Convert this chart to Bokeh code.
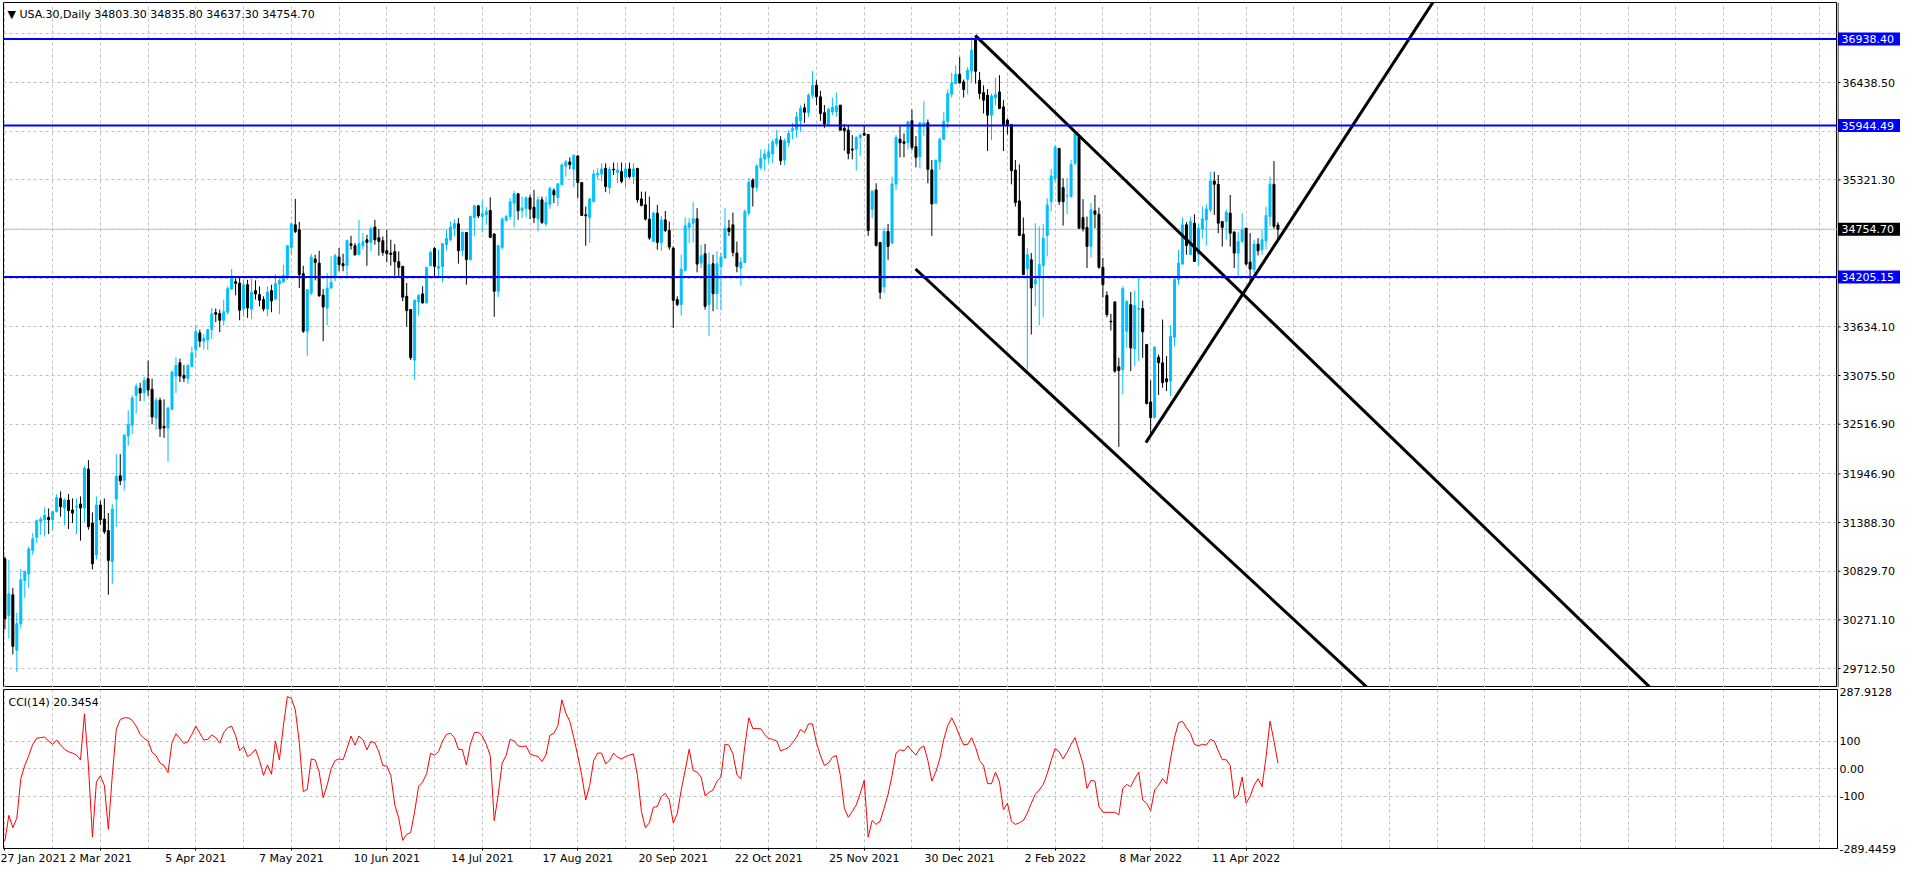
import numpy as np
from bokeh.plotting import figure
from bokeh.layouts import column, row
from bokeh.models import ColumnDataSource, Range1d, FixedTicker, Span, Label
from bokeh.core.properties import value
from bokeh.embed import file_html
from bokeh.resources import INLINE

symbol = "USA.30,Daily"
last_ohlc = [34803.30, 34835.80, 34637.30, 34754.70]
cci_name = "CCI(14)"
cci_last = 20.3454

opens = [30971,30322,30559,29922,30227,30723,30799,31066,31219,31398,
31421,31448,31421,31513,31665,31555,31646,31532,31566,31600,
31555,32001,31383,31017,31589,31429,31295,30940,31658,31925,
31875,32382,32505,32848,32928,32878,33039,32917,32588,32791,
32493,32474,32688,33069,33222,33077,33042,33180,33374,33565,
33470,33485,33603,33798,33787,33710,33802,34069,34153,34137,
33840,34118,33840,34050,34004,33947,33840,34050,33954,34126,
34149,34214,34546,34805,34748,34244,33584,34023,34412,34366,
33999,33851,34081,34214,34436,34359,34336,34588,34565,34462,
34565,34634,34604,34779,34657,34623,34508,34481,34497,34382,
34329,33985,33833,33253,33921,34012,33909,34336,34535,34306,
34325,34577,34634,34768,34817,34512,34718,34405,34890,35023,
34901,34920,34970,34699,34043,34546,34855,34901,35054,35161,
34970,34993,35115,35008,34878,35092,34817,35042,35199,35119,
35264,35481,35527,35443,35595,35290,34920,34890,35073,35378,
35389,35454,35233,35443,35408,35416,35351,35447,35359,35454,
35103,35035,34870,34614,34939,34603,34862,34740,34538,33947,
33890,34282,34775,34824,34874,34366,34473,33890,34359,34015,
34328,34424,34767,34805,34481,34309,34374,34939,35320,35236,
35465,35560,35580,35618,35740,35778,35549,35747,35885,35900,
35999,36148,36095,36293,36407,36274,36091,35961,36102,36102,
36179,35911,35892,35675,35675,35808,35854,35843,34984,35206,
34603,34092,34729,34595,35274,35789,35759,35751,35999,35702,
35587,35950,35976,35435,35053,35530,35786,35988,36304,36427,
36533,36446,36476,36571,36949,36465,36323,36293,36064,36262,
36331,36159,36007,35957,35434,35080,34698,34301,34404,34126,
34195,34340,34683,35072,35339,35682,35232,35137,35129,35511,
35816,34889,34774,34557,34965,34927,34317,33996,33699,33920,
33176,33145,33584,33889,33386,33836,33844,33432,32772,32592,
33287,33222,33039,33012,33516,34176,34355,34805,34462,34824,
34469,34759,34862,34977,35309,35270,34843,34843,34939,34721,
34481,34614,34767,34378,34290,34584,34519,34622,34900,35270,
34803.3]

highs = [30998,30959,30639,30353,30856,30837,31112,31268,31421,31455,
31562,31551,31524,31715,31745,31665,31715,31665,31665,31688,
32039,32104,31505,31688,31639,31665,31497,31600,32173,32173,
32402,32676,32848,32985,32993,33062,33248,33039,32821,32821,
32802,32714,33134,33287,33271,33195,33203,33409,33653,33603,
33554,33611,33851,33844,33832,33947,34099,34298,34191,34195,
34175,34175,34183,34168,34099,33985,34099,34118,34240,34191,
34347,34568,34832,35103,34839,34336,34061,34473,34462,34507,
34069,34252,34443,34474,34539,34474,34634,34680,34596,34863,
34710,34691,34787,34863,34756,34672,34748,34634,34584,34501,
34329,34138,33833,33947,34004,34100,34317,34508,34550,34520,
34596,34748,34844,34871,34882,34729,34722,34909,35035,35035,
35084,35008,35122,34710,34577,34893,34920,35111,35195,35168,
35130,35130,35149,35206,35130,35130,35130,35244,35225,35283,
35511,35550,35580,35614,35607,35294,35016,35111,35435,35454,
35511,35511,35473,35519,35519,35519,35511,35519,35511,35454,
35187,35187,35129,34958,35034,34908,34965,34843,34557,33985,
34462,34889,34882,35065,34996,34576,34588,34488,34462,34500,
34481,34996,34862,34946,34614,34435,34984,35339,35339,35503,
35671,35671,35740,35786,35892,35824,35797,35892,35976,36102,
36179,36198,36312,36568,36465,36343,36179,36152,36262,36323,
36179,35961,35950,35835,35824,35854,35938,35843,35206,35282,
34603,34767,34817,35358,35835,35938,35854,35995,36129,35824,
35988,36224,36014,35549,35549,35808,36102,36358,36549,36636,
36732,36472,36617,36960,36975,36560,36407,36362,36312,36491,
36522,36236,36026,35957,35549,35499,34889,34538,34481,34824,
34786,34816,35110,35446,35721,35682,35339,35339,35549,35881,
35843,35100,34900,35053,35148,35003,34423,34042,33783,33928,
33279,34099,33935,34034,34050,34195,33935,33432,33020,33412,
33317,33718,33298,33653,34195,34519,34889,34836,34900,34927,
34813,35015,35042,35415,35415,35377,34851,34977,35148,34736,
34721,34939,34767,34710,34633,34652,34748,35015,35358,35537,
34835.8]

lows = [30162,30055,29876,29674,30170,30525,30639,31017,31154,31246,
31227,31257,31303,31505,31455,31360,31314,31383,31257,31181,
31391,31307,30849,30963,31360,31257,30559,30685,31341,31818,
31753,32268,32402,32638,32783,32783,32840,32516,32451,32371,
32360,32085,32680,32875,33000,33000,32981,33172,33279,33401,
33374,33367,33496,33687,33573,33649,33775,34061,33996,33710,
33752,33737,33725,33947,33870,33813,33756,33802,33939,33779,
34137,34175,34462,34710,34080,33565,33298,33996,34168,33977,
33470,33653,34069,34157,34272,34272,34214,34520,34451,34462,
34520,34336,34501,34577,34451,34451,34375,34336,34222,34214,
33928,33635,33253,33024,33764,33902,33902,34329,34214,34214,
34146,34512,34615,34672,34359,34443,34119,34398,34672,34882,
34718,34806,34661,33749,33978,34520,34855,34863,34775,34863,
34882,34890,34871,34825,34729,34813,34787,34989,35054,35023,
35264,35359,35443,35237,35111,34909,34565,34596,35061,35328,
35302,35180,35157,35378,35283,35283,35237,35340,35275,35061,
35016,34855,34633,34603,34519,34508,34721,34519,33622,33871,
33764,34279,34595,34603,34260,34309,33832,33527,33813,33832,
33825,34424,34679,34443,34260,34107,34366,34912,35015,35187,
35435,35427,35511,35511,35702,35492,35492,35702,35786,35808,
35873,35976,36045,36255,36179,35999,35919,35938,36064,36045,
35892,35656,35557,35557,35427,35595,35824,34679,34881,34557,
33954,34023,34405,34595,35206,35580,35580,35671,35664,35465,
35454,35824,35282,34679,35053,35435,35778,35911,36266,36419,
36427,36266,36300,36445,36426,36247,36083,35652,35778,36178,
36133,35652,35843,35270,35015,34683,34233,33145,33546,33870,
33653,33744,34443,34958,35301,35034,34797,34927,35118,35492,
34759,34729,34309,34431,34767,34301,33973,33744,33592,33107,
32257,32859,33393,33126,33184,33241,33279,32745,32382,32585,
32852,32936,32897,32840,33412,34118,34347,34462,34462,34378,
34340,34652,34568,34950,34919,34710,34557,34633,34557,34309,
34214,34595,34340,34156,34252,34454,34462,34519,34786,34759,
34637.3]

closes = [30284,30570,29968,30227,30731,30826,31085,31200,31410,31429,
31474,31421,31513,31677,31570,31646,31524,31497,31574,31555,
32012,31341,30914,31589,31421,31284,30952,31543,31917,31867,
32390,32516,32817,32951,32875,33020,32909,32600,32791,32466,
32474,32703,33115,33191,33069,33046,33191,33336,33580,33470,
33500,33603,33783,33779,33710,33809,34072,34191,34134,33825,
34118,33851,34034,34011,33939,33840,34034,33931,34130,34164,
34225,34565,34816,34729,34233,33584,34061,34435,34374,33992,
33863,34080,34146,34451,34348,34336,34623,34569,34462,34588,
34611,34604,34760,34634,34615,34489,34474,34466,34382,34317,
33974,33821,33280,33940,33997,33909,34317,34489,34329,34329,
34588,34649,34779,34821,34508,34718,34405,34901,35023,34909,
34932,34958,34661,34043,34565,34871,34901,35069,35161,34966,
35000,35115,34985,34886,35092,34832,35061,35225,35149,35275,
35492,35527,35496,35603,35290,34913,34909,35103,35389,35397,
35447,35244,35443,35435,35435,35302,35447,35359,35447,35092,
35027,34871,34653,34939,34603,34862,34740,34550,33939,33890,
34298,34794,34824,34874,34355,34450,33870,34347,34015,34359,
34435,34767,34729,34488,34328,34378,34958,35293,35236,35480,
35568,35618,35644,35759,35797,35541,35770,35854,35911,36045,
36140,36098,36293,36407,36274,36083,35961,36129,36152,36167,
35892,35885,35625,35664,35808,35835,35835,34740,35187,34569,
34031,34729,34557,35274,35808,35747,35740,35988,35694,35580,
35976,35976,35442,35045,35549,35786,35995,36312,36434,36533,
36434,36358,36579,36808,36568,36312,36236,36064,36285,36300,
36140,35957,35957,35427,35061,34683,34233,34462,34080,34176,
34347,34652,35034,35366,35694,35072,35072,35141,35499,35854,
34767,34759,34557,34977,34927,34317,34118,33775,33691,33126,
33134,34073,33928,33393,33878,33844,33577,32753,32592,33401,
33222,32993,33004,33527,34176,34366,34805,34568,34843,34385,
34767,34874,34988,35309,35270,34824,34774,34950,34710,34481,
34614,34748,34355,34298,34584,34507,34633,34912,35270,34786,
34754.7]

cci = [-262,-169,-214,-179,-36,12,48,89,111,113,
115,101,89,105,86,71,62,57,50,32,
200,12,-248,-48,-26,-60,-220,-24,143,179,
185,185,176,155,125,110,101,60,48,21,
12,-14,95,127,110,92,98,125,155,129,
104,107,123,113,93,131,149,155,121,65,
81,44,54,71,30,-24,14,-20,101,32,
155,262,256,214,95,-83,-75,36,32,-12,
-105,-60,0,30,36,33,74,119,86,119,
105,69,99,95,62,12,10,-24,-131,-179,
-260,-238,-232,-155,-63,-48,-18,56,50,62,
101,125,129,113,71,69,14,89,131,133,
119,89,48,-188,-95,21,48,107,101,83,
81,83,54,48,45,26,50,121,129,157,
250,202,173,113,48,-24,-113,-60,30,57,
57,18,30,57,42,36,44,50,54,-24,
-155,-214,-196,-140,-137,-101,-89,-113,-196,-164,
-77,-6,71,-6,-12,-30,-98,-86,-77,-45,
-30,89,86,54,-21,-36,83,185,146,146,
145,125,110,107,101,65,71,77,95,115,
143,131,163,163,95,48,12,21,42,48,
-24,-143,-176,-155,-131,-89,-42,-248,-188,-202,
-190,-143,-93,-24,57,69,65,83,65,50,
74,83,30,-45,-12,36,107,157,185,155,
119,87,89,113,77,30,12,-54,-54,-12,
-48,-149,-125,-190,-202,-196,-188,-161,-125,-93,
-77,-57,-18,30,74,62,36,60,89,113,
65,18,-71,-42,-45,-137,-158,-158,-158,-158,
-167,-71,-57,-65,-36,-12,-113,-125,-152,-77,
-60,-36,-54,36,113,167,173,149,129,89,
83,89,86,107,101,65,33,33,12,-107,
-95,-30,-125,-101,-60,-36,-65,42,173,101,
20.3454]

date_labels = ["27 Jan 2021", "2 Mar 2021", "5 Apr 2021", "7 May 2021", "10 Jun 2021",
               "14 Jul 2021", "17 Aug 2021", "20 Sep 2021", "22 Oct 2021", "25 Nov 2021",
               "30 Dec 2021", "2 Feb 2022", "8 Mar 2022", "11 Apr 2022"]
date_label_bars = [0, 24, 48, 72, 96, 120, 144, 168, 192, 216, 240, 264, 288, 312]

price_ticks = [29712.50, 30271.10, 30829.70, 31388.30, 31946.90, 32516.90, 33075.50,
               33634.10, 34192.70, 34751.30, 35321.30, 35879.90, 36438.50, 36997.10]
hidden_price_ticks = [34192.70, 34751.30, 35879.90, 36997.10]
level_lines = [36938.40, 35944.49, 34205.15]
cci_ticks = [-289.4459, -100, 0, 100, 287.9128]
cci_tick_text = ["-289.4459", "-100", "0.00", "100", "287.9128"]
cci_grid = [-100, 0, 100]

# trend lines: anchor point and a second point on the line (bar index, price)
trend_x0 = [243.9, 228.9, 286.8]
trend_y0 = [36980.0, 34298.0, 32306.0]
trend_x1 = [322.6, 281.4, 322.6]
trend_y1 = [33508.0, 32077.0, 34813.0]

x_start, x_end = -0.35, 460.65
price_lo, price_hi = 29495.0, 37357.0
cci_lo, cci_hi = -289.4459, 287.9128

FONT = "DejaVu Sans"
FS = "11px"
BULL = "#00BFFF"
BEAR = "#000000"
GRID = "#C0C0C0"
AXW = 64          # width of the right price-scale strip (px)
W = 1901

n = len(closes)
xs = np.arange(n)
o = np.array(opens, dtype=float)
c = np.array(closes, dtype=float)
up = c >= o
colors = np.where(up, BULL, BEAR)
src = ColumnDataSource(dict(x=xs, o=o, h=highs, l=lows, c=c,
                            top=np.maximum(o, c), bot=np.minimum(o, c), col=colors))

# ---------------- main price panel ----------------
p = figure(width=W - AXW, height=687, x_range=Range1d(x_start, x_end), y_range=Range1d(price_lo, price_hi),
           output_backend="svg", toolbar_location=None, y_axis_location=None,
           x_axis_location=None, min_border_left=3, min_border_right=0,
           min_border_top=2, min_border_bottom=0)
p.outline_line_color = "black"
p.outline_line_alpha = 1
p.background_fill_color = "white"
p.border_fill_color = "white"

grid_bars = list(range(0, 461, 12))
p.xgrid.ticker = FixedTicker(ticks=grid_bars)
p.ygrid.ticker = FixedTicker(ticks=price_ticks)
for g in (p.xgrid, p.ygrid):
    g.grid_line_color = GRID
    g.grid_line_dash = "3 3"

p.add_layout(Span(location=last_ohlc[3], dimension="width", line_color=GRID, line_width=1, level="underlay"))

p.segment(x0="x", y0="h", x1="x", y1="l", source=src, line_color="col", line_width=1)
p.vbar(x="x", width=0.5, top="top", bottom="bot", source=src, fill_color="col", line_color="col", line_width=1)

for lv in level_lines:
    p.add_layout(Span(location=lv, dimension="width", line_color="#0000FF", line_width=2))

tx0 = np.array(trend_x0); ty0 = np.array(trend_y0)
tx1 = np.array(trend_x1); ty1 = np.array(trend_y1)
ext = 4.0
p.segment(x0=tx0, y0=ty0, x1=tx0 + (tx1 - tx0) * ext, y1=ty0 + (ty1 - ty0) * ext,
          line_color="black", line_width=3)

header = "\u25bc " + symbol + "  " + " ".join(f"{v:.2f}" for v in last_ohlc)
p.add_layout(Label(x=x_start, y=price_hi, x_offset=4, y_offset=-5, text=header,
                   text_baseline="top", text_align="left", text_font=FONT,
                   text_font_size=FS, text_color="black"))

# ---------------- price scale strip (right of main panel) ----------------
pr = figure(width=AXW, height=687, x_range=Range1d(0, AXW), y_range=p.y_range,
            output_backend="svg", toolbar_location=None, x_axis_location=None,
            y_axis_location=None, min_border_left=0, min_border_right=0,
            min_border_top=2, min_border_bottom=0)
pr.outline_line_color = None
pr.grid.visible = False
pr.background_fill_color = "white"
pr.border_fill_color = "white"

shown_ticks = [t for t in price_ticks if t not in hidden_price_ticks]
pr.segment(x0=0, y0=shown_ticks, x1=3, y1=shown_ticks, line_color="black", line_width=1)
pr.text(x=5, y=shown_ticks, text=[f"{t:.2f}" for t in shown_ticks], text_baseline="middle",
        text_align="left", text_font=value(FONT), text_font_size=value(FS), text_color="black")

box_vals = level_lines + [last_ohlc[3]]
box_cols = ["#0000FF"] * len(level_lines) + ["#000000"]
pr.rect(x=31.5, y=box_vals, width=62, height=13, height_units="screen",
        fill_color=box_cols, line_color=None)
pr.text(x=4, y=box_vals, text=[f"{v:.2f}" for v in box_vals], text_baseline="middle",
        text_align="left", text_font=value(FONT), text_font_size=value(FS), text_color="white")
pr.add_layout(Span(location=0.5, dimension="height", line_color="black", line_width=1))

# ---------------- CCI panel ----------------
q = figure(width=W, height=180, x_range=p.x_range, y_range=Range1d(cci_lo, cci_hi),
           output_backend="svg", toolbar_location=None, y_axis_location="right",
           min_border_left=3, min_border_right=AXW, min_border_top=2, min_border_bottom=16)
q.outline_line_color = "black"
q.outline_line_alpha = 1
q.xgrid.ticker = FixedTicker(ticks=grid_bars)
q.ygrid.ticker = FixedTicker(ticks=cci_grid)
for g in (q.xgrid, q.ygrid):
    g.grid_line_color = GRID
    g.grid_line_dash = "3 3"

qy = q.yaxis[0]
qy.ticker = FixedTicker(ticks=cci_ticks)
qy.major_label_overrides = {v: t for v, t in zip(cci_ticks, cci_tick_text)}
qx = q.xaxis[0]
qx.ticker = FixedTicker(ticks=date_label_bars)
qx.major_label_overrides = {b: t for b, t in zip(date_label_bars, date_labels)}
qx.major_label_text_align = "left"
for a in (qy, qx):
    a.axis_line_color = "black"
    a.major_tick_out = 2
    a.major_tick_in = 0
    a.minor_tick_out = 0
    a.minor_tick_in = 0
    a.major_label_standoff = 1
    a.major_label_text_font = FONT
    a.major_label_text_font_size = FS
    a.major_label_text_color = "black"
qy.major_tick_out = 0
qy.major_label_standoff = 2

q.line(xs, cci, line_color="#FF0000", line_width=1)
q.add_layout(Label(x=x_start, y=cci_hi, x_offset=5, y_offset=-6,
                   text=f"{cci_name} {cci_last:.4f}", text_baseline="top", text_align="left",
                   text_font=FONT, text_font_size=FS, text_color="black"))

layout = column(row(p, pr), q)
open("out.html", "w").write(file_html(layout, INLINE))
